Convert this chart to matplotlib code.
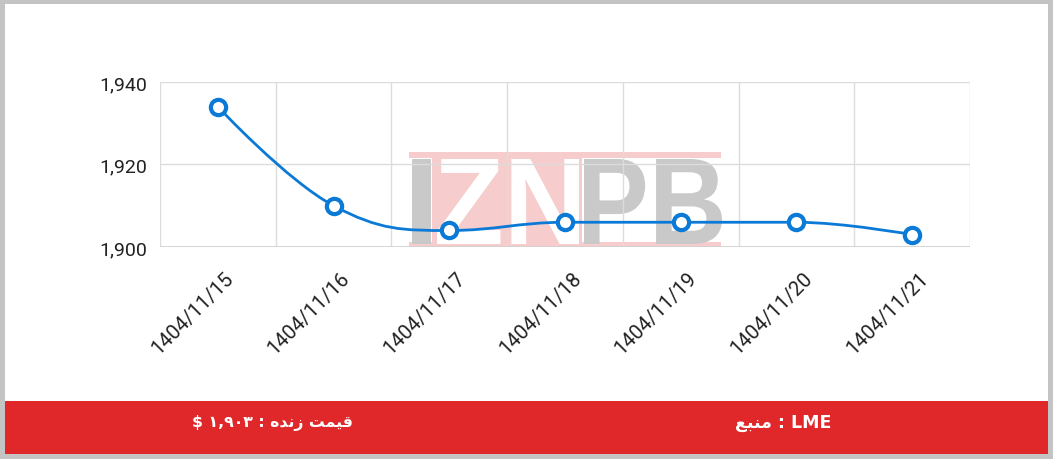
import matplotlib
matplotlib.use("Agg")
import matplotlib.pyplot as plt
import numpy as np
from matplotlib.path import Path
from matplotlib.patches import PathPatch, Rectangle
from matplotlib.textpath import TextPath
from matplotlib.font_manager import FontProperties
from matplotlib.transforms import (Affine2D, IdentityTransform, offset_copy,
                                   blended_transform_factory)

# ------------ data ------------ #
dates = ["1404/11/15", "1404/11/16", "1404/11/17", "1404/11/18",
         "1404/11/19", "1404/11/20", "1404/11/21"]
prices = [1934, 1910, 1904, 1906, 1906, 1906, 1903]
y_ticks = [1900, 1920, 1940]
y_labels = ["1,900", "1,920", "1,940"]

# pre-shaped persian text (presentation forms, visual order)
live_label = "$ \u06F1,\u06F9\u06F0\u06F3 : " + "\uFEE9\uFEAA\uFEE7\uFEAF" + " " + "\uFE96\uFEE4\uFEF4\uFED7"
source_label = "\uFECA\uFE92\uFEE8\uFEE3" + " : LME"

blue = "#0a7ad6"
red = "#e0282a"
W, H = 1053, 460


def spline_path(xs, ys):
    # highcharts-like spline control points
    n = len(xs)
    verts = [(xs[0], ys[0])]
    codes = [Path.MOVETO]
    right = [(xs[0], ys[0])] * n
    left = [(xs[0], ys[0])] * n
    for i in range(1, n - 1):
        x, y = xs[i], ys[i]
        lx = (1.5 * x + xs[i - 1]) / 2.5
        ly = (1.5 * y + ys[i - 1]) / 2.5
        rx = (1.5 * x + xs[i + 1]) / 2.5
        ry = (1.5 * y + ys[i + 1]) / 2.5
        corr = (ry - ly) * (rx - x) / (rx - lx) + y - ry
        ly += corr
        ry += corr
        if ly > ys[i - 1] and ly > y:
            ly = max(ys[i - 1], y)
            ry = 2 * y - ly
        elif ly < ys[i - 1] and ly < y:
            ly = min(ys[i - 1], y)
            ry = 2 * y - ly
        if ry > ys[i + 1] and ry > y:
            ry = max(ys[i + 1], y)
            ly = 2 * y - ry
        elif ry < ys[i + 1] and ry < y:
            ry = min(ys[i + 1], y)
            ly = 2 * y - ry
        left[i] = (lx, ly)
        right[i] = (rx, ry)
    left[n - 1] = (xs[n - 1], ys[n - 1])
    for i in range(1, n):
        verts += [right[i - 1], left[i], (xs[i], ys[i])]
        codes += [Path.CURVE4] * 3
    return Path(verts, codes)


fig = plt.figure(figsize=(W / 100, H / 100), dpi=100)
fig.patch.set_facecolor("#c4c4c4")

# white card + red footer
fig.add_artist(Rectangle((5, 5), W - 10, H - 10, transform=IdentityTransform(),
                         facecolor="white", edgecolor="none", zorder=0))
fig.add_artist(Rectangle((5, H - 455), W - 10, 53, transform=IdentityTransform(),
                         facecolor=red, edgecolor="none", zorder=1))

# watermark
pink = "#f6cccc"
gray = "#c9c9c9"
for (x0, y0, w, h, c) in [(409, 153, 312, 6, pink), (409, 243, 312, 5, pink),
                          (432, 159, 150, 84, pink)]:
    fig.add_artist(Rectangle((x0, H - y0 - h), w, h, transform=IdentityTransform(),
                             facecolor=c, edgecolor="none", zorder=1))
fp = FontProperties(family="Liberation Sans", weight="bold")
for (txt, x0, width, col) in [("I", 412, 19, gray), ("ZN", 437, 142, "white"),
                              ("PB", 584, 138, gray)]:
    tp = TextPath((0, 0), txt, size=100, prop=fp)
    bb = tp.get_extents()
    sx = width / bb.width
    sy = 85 / bb.height
    tr = Affine2D().translate(-bb.x0, -bb.y0).scale(sx, sy).translate(x0, H - 245)
    fig.add_artist(PathPatch(tr.transform_path(tp), transform=IdentityTransform(),
                             facecolor=col, edgecolor="none", zorder=1))

ax = fig.add_axes([160 / W, 1 - 248 / H, 810 / W, 165 / H])
ax.set_facecolor("none")
ax.set_zorder(2)

x = np.arange(len(dates))
ax.set_xlim(-0.5, len(dates) - 0.5)
ax.set_ylim(1900, 1940)

ax.set_yticks(y_ticks)
ax.set_yticklabels(y_labels, fontsize=14, color="#222222", fontfamily="Roboto")
ax.tick_params(axis="y", length=0, pad=9.5)

# x labels: rotated, drawn as texts under each category
ax.set_xticks(x)
ax.set_xticklabels([])
ax.tick_params(axis="x", length=0)
lab_tr = offset_copy(blended_transform_factory(ax.transData, ax.transAxes),
                     fig=fig, x=13, y=-28, units="dots")
for xi, d in zip(x, dates):
    ax.text(xi, 0, d, transform=lab_tr, rotation=45, rotation_mode="anchor",
            ha="right", va="center", fontsize=14.5, color="#222222",
            fontfamily="Roboto", clip_on=False)

ax.set_xticks(np.arange(-0.5, len(dates), 1), minor=True)
ax.tick_params(which="minor", length=0)
ax.grid(True, which="minor", axis="x", color="#dcdcdc", lw=1)
ax.grid(True, which="major", axis="y", color="#dcdcdc", lw=1)
for s in ax.spines.values():
    s.set_visible(False)
ax.axhline(1900, color="#d0d0d0", lw=1.2)

ax.add_patch(PathPatch(spline_path(list(x), prices), facecolor="none",
                       edgecolor=blue, lw=2, zorder=3))
ax.plot(x, prices, ls="none", marker="o", ms=11, mfc="white", mec=blue,
        mew=3, zorder=4, clip_on=False)

fig.text(272 / W, 1 - 423 / H, live_label, color="white", fontsize=11.3,
         fontweight="bold", fontfamily="DejaVu Sans", ha="center", va="center", zorder=5)
fig.text(783 / W, 1 - 423 / H, source_label, color="white", fontsize=12.5,
         fontweight="bold", fontfamily="DejaVu Sans", ha="center", va="center", zorder=5)

fig.savefig("out.png", dpi=100, facecolor=fig.get_facecolor())
